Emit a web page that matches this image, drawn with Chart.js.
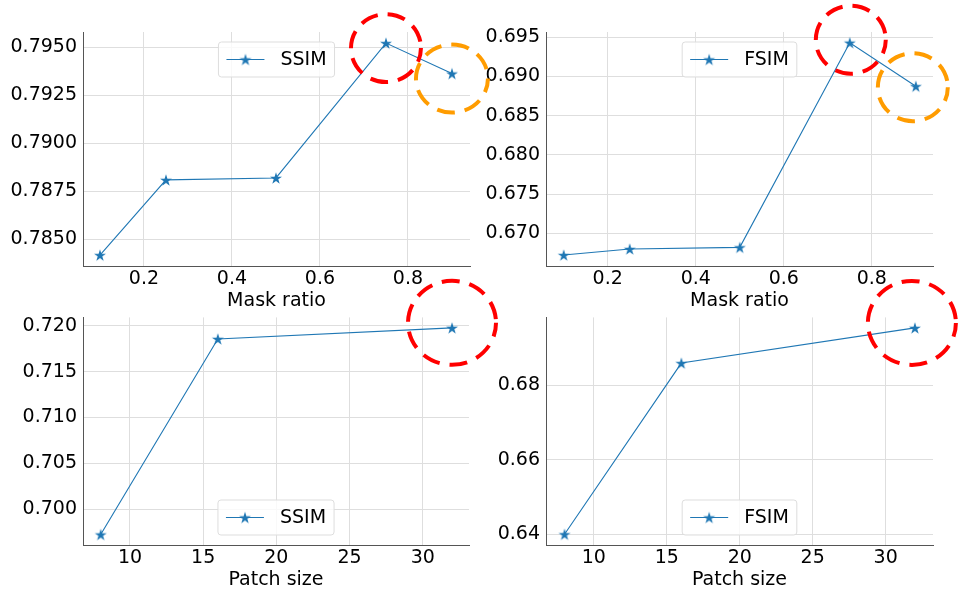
<!DOCTYPE html>
<html>
<head>
<meta charset="utf-8">
<script src="https://cdn.jsdelivr.net/npm/chart.js@4.4.0/dist/chart.umd.min.js"></script>
<style>
html, body { margin: 0; padding: 0; background: #fff; overflow: hidden; }
#wrap { position: relative; width: 958px; height: 589px; overflow: hidden; }
canvas { position: absolute; }
</style>
</head>
<body>
<div id="wrap">
	<canvas id="c1" width="480" height="312" style="left:0px;top:0px"></canvas>
	<canvas id="c2" width="480" height="312" style="left:478px;top:0px"></canvas>
	<canvas id="c3" width="480" height="292" style="left:0px;top:300px"></canvas>
	<canvas id="c4" width="480" height="292" style="left:478px;top:300px"></canvas>
	<canvas id="overlay" width="958" height="589" style="left:0px;top:0px;pointer-events:none"></canvas>
</div>
<script>
// data
var maskRatio = [0.1, 0.25, 0.5, 0.75, 0.9];
var ssimMask = [0.78417, 0.78809, 0.78819, 0.79522, 0.79363];
var fsimMask = [0.66723, 0.66800, 0.66821, 0.69431, 0.68876];

var patchSize = [8, 16, 32];
var ssimPatch = [0.69723, 0.71858, 0.71979];
var fsimPatch = [0.64000, 0.68592, 0.69536];

// tick labels
var maskTicks = [0.2, 0.4, 0.6, 0.8];
var patchTicks = [10, 15, 20, 25, 30];
var ssimMaskTicks = [0.7850, 0.7875, 0.7900, 0.7925, 0.7950];
var fsimMaskTicks = [0.670, 0.675, 0.680, 0.685, 0.690, 0.695];
var ssimPatchTicks = [0.700, 0.705, 0.710, 0.715, 0.720];
var fsimPatchTicks = [0.64, 0.66, 0.68];

var FONT = "'DejaVu Sans', 'Liberation Sans', sans-serif";
var BLUE = '#1f77b4';
var TEXT = '#000';

// filled star marker like matplotlib '*'
function makeStar(size, r) {
	var c = document.createElement('canvas');
	c.width = size; c.height = size;
	var g = c.getContext('2d');
	var cx = size / 2, cy = size / 2 + r * 0.1;
	g.beginPath();
	for (var i = 0; i < 10; i++) {
		var rad = (i % 2 == 0) ? r : r * 0.382;
		var a = -Math.PI / 2 + i * Math.PI / 5;
		var px = cx + rad * Math.cos(a), py = cy + rad * Math.sin(a);
		if (i == 0) g.moveTo(px, py); else g.lineTo(px, py);
	}
	g.closePath();
	g.fillStyle = BLUE;
	g.fill();
	return c;
}
var starImg = makeStar(16, 6.3);

// legend box drawn inside the plot area (upper or lower centre)
var boxLegend = {
	id: 'boxLegend',
	afterDraw: function(chart) {
		var o = chart.options.plugins.boxLegend;
		var ctx = chart.ctx, area = chart.chartArea;
		var label = chart.data.datasets[0].label;
		ctx.save();
		ctx.font = '19px ' + FONT;
		var tw = ctx.measureText(label).width;
		var w = 8 + 38 + 16 + tw + 8, h = 35;
		var x = (area.left + area.right) / 2 - w / 2;
		var y = o.where == 'top' ? area.top + 10 : area.bottom - 10 - h;
		ctx.beginPath();
		ctx.roundRect(x, y, w, h, 3);
		ctx.fillStyle = 'rgba(255,255,255,0.8)';
		ctx.fill();
		ctx.strokeStyle = '#dddddd';
		ctx.lineWidth = 1;
		ctx.stroke();
		var my = y + h / 2;
		ctx.beginPath();
		ctx.moveTo(x + 8, my);
		ctx.lineTo(x + 46, my);
		ctx.strokeStyle = BLUE;
		ctx.lineWidth = 1.1;
		ctx.stroke();
		ctx.drawImage(starImg, x + 27 - starImg.width / 2, my - starImg.height / 2);
		ctx.fillStyle = TEXT;
		ctx.textBaseline = 'middle';
		ctx.fillText(label, x + 62, my + 1);
		ctx.restore();
	}
};

function makePanel(id, xs, ys, label, p) {
	var pts = [];
	for (var i = 0; i < xs.length; i++) pts.push({x: xs[i], y: ys[i]});
	var ctx = document.getElementById(id).getContext('2d');
	return new Chart(ctx, {
		type: 'line',
		data: {
			datasets: [{
				label: label,
				data: pts,
				borderColor: BLUE,
				borderWidth: 1.1,
				pointStyle: starImg,
				pointRadius: 7,
				fill: false,
				tension: 0,
				clip: false
			}]
		},
		options: {
			responsive: false,
			animation: false,
			events: [],
			layout: { padding: p.pad },
			plugins: {
				legend: { display: false },
				tooltip: { enabled: false },
				boxLegend: { where: p.legend }
			},
			scales: {
				x: {
					type: 'linear',
					min: p.xMin, max: p.xMax,
					afterBuildTicks: function(s) { s.ticks = p.xTicks.map(function(v){ return {value: v}; }); },
					afterFit: function(s) { s.height = p.xHeight; },
					ticks: {
						padding: 2,
						color: TEXT,
						font: { family: FONT, size: 19 },
						maxRotation: 0,
						callback: function(v) { return String(v); }
					},
					grid: { color: '#dedede', lineWidth: 1, drawTicks: false },
					border: { display: true, color: '#555', width: 1 },
					title: {
						display: true,
						text: p.xTitle,
						color: TEXT,
						font: { family: FONT, size: 19 },
						padding: { top: 0, bottom: p.titlePad }
					}
				},
				y: {
					min: p.yMin, max: p.yMax,
					afterBuildTicks: function(s) { s.ticks = p.yTicks.map(function(v){ return {value: v}; }); },
					afterFit: function(s) { s.width = p.yWidth; },
					ticks: {
						padding: 6,
						color: TEXT,
						font: { family: FONT, size: 19 },
						callback: function(v) { return v.toFixed(p.dec); }
					},
					grid: { color: '#dedede', lineWidth: 1, drawTicks: false },
					border: { display: true, color: '#555', width: 1 }
				}
			}
		},
		plugins: [boxLegend]
	});
}

var ch1 = makePanel('c1', maskRatio, ssimMask, 'SSIM', {
	pad: {top: 32, right: 10, left: 0, bottom: 0}, yWidth: 83, xHeight: 46, titlePad: 0,
	xMin: 0.0614, xMax: 0.941, xTicks: maskTicks, xTitle: 'Mask ratio',
	yMin: 0.7836, yMax: 0.7958, yTicks: ssimMaskTicks, dec: 4, legend: 'top'
});
var ch2 = makePanel('c2', maskRatio, fsimMask, 'FSIM', {
	pad: {top: 32, right: 25, left: 0, bottom: 0}, yWidth: 68, xHeight: 46, titlePad: 0,
	xMin: 0.0598, xMax: 0.939, xTicks: maskTicks, xTitle: 'Mask ratio',
	yMin: 0.66583, yMax: 0.69568, yTicks: fsimMaskTicks, dec: 3, legend: 'top'
});
var ch3 = makePanel('c3', patchSize, ssimPatch, 'SSIM', {
	pad: {top: 12, right: 11, left: 0, bottom: 0}, yWidth: 83, xHeight: 47, titlePad: 1,
	xMin: 6.79, xMax: 33.16, xTicks: patchTicks, xTitle: 'Patch size',
	yMin: 0.69609, yMax: 0.72093, yTicks: ssimPatchTicks, dec: 3, legend: 'bottom'
});
var ch4 = makePanel('c4', patchSize, fsimPatch, 'FSIM', {
	pad: {top: 12, right: 25, left: 0, bottom: 0}, yWidth: 68, xHeight: 47, titlePad: 1,
	xMin: 6.73, xMax: 33.24, xTicks: patchTicks, xTitle: 'Patch size',
	yMin: 0.63712, yMax: 0.69817, yTicks: fsimPatchTicks, dec: 2, legend: 'bottom'
});

// dashed highlight circles around the best / runner-up points
var highlights = [
	{chart: ch1, idx: 3, color: '#ff0000', rx: 35, ry: 34, dx: 0, dy: 5},
	{chart: ch1, idx: 4, color: '#ff9c00', rx: 36, ry: 34, dx: 0, dy: 5},
	{chart: ch2, idx: 3, color: '#ff0000', rx: 35, ry: 34, dx: 1, dy: -3},
	{chart: ch2, idx: 4, color: '#ff9c00', rx: 35, ry: 34, dx: -3, dy: 1},
	{chart: ch3, idx: 2, color: '#ff0000', rx: 44, ry: 42, dx: 0, dy: -5},
	{chart: ch4, idx: 2, color: '#ff0000', rx: 44, ry: 42, dx: -3, dy: -5}
];

var ov = document.getElementById('overlay').getContext('2d');
highlights.forEach(function(h) {
	var c = h.chart;
	var pt = c.data.datasets[0].data[h.idx];
	var cx = c.canvas.offsetLeft + c.scales.x.getPixelForValue(pt.x) + h.dx;
	var cy = c.canvas.offsetTop + c.scales.y.getPixelForValue(pt.y) + h.dy;
	ov.save();
	ov.beginPath();
	ov.ellipse(cx, cy, h.rx, h.ry, 0, 0, Math.PI * 2);
	ov.strokeStyle = h.color;
	ov.lineWidth = 4;
	ov.setLineDash([18, 10]);
	ov.lineDashOffset = 4;
	ov.stroke();
	ov.restore();
});
</script>
</body>
</html>
